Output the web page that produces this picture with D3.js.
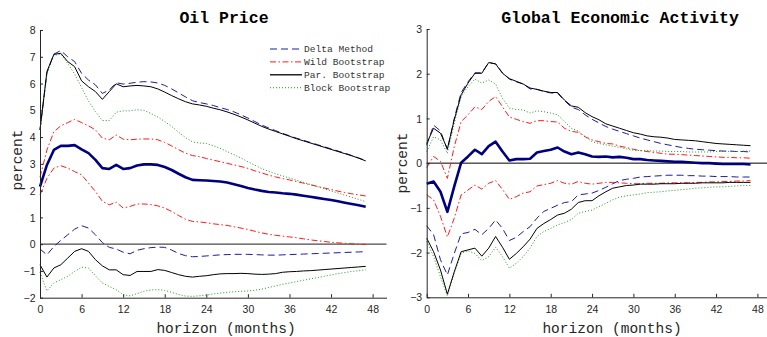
<!DOCTYPE html>
<html>
<head>
<meta charset="utf-8">
<script src="https://cdn.jsdelivr.net/npm/d3@7"></script>
<style>
  html, body { margin: 0; padding: 0; background: #fff; }
  svg { display: block; }
</style>
</head>
<body>
<svg id="chart" width="767" height="337"></svg>
<script>
// ---------- data ----------
const horizon = d3.range(48);
const xTicks = [0, 6, 12, 18, 24, 30, 36, 42, 48];
const oilYTicks = [-2, -1, 0, 1, 2, 3, 4, 5, 6, 7, 8];
const geaYTicks = [-3, -2, -1, 0, 1, 2, 3];
const legendLabels = ["Delta Method", "Wild Bootstrap", "Par. Bootstrap", "Block Bootstrap"];

const oilPoint = [2.15,2.96,3.52,3.67,3.67,3.70,3.54,3.40,3.15,2.84,2.81,2.96,2.81,2.84,2.94,2.98,2.98,2.96,2.88,2.77,2.63,2.50,2.40,2.39,2.38,2.36,2.34,2.30,2.24,2.17,2.10,2.04,1.99,1.95,1.93,1.90,1.88,1.85,1.81,1.77,1.73,1.69,1.65,1.60,1.55,1.50,1.45,1.40];
const oilDeltaUp = [4.27,6.40,7.10,7.23,7.00,6.82,6.38,6.13,5.95,5.63,5.76,6.03,5.98,6.01,6.05,6.07,6.06,6.02,5.93,5.80,5.65,5.50,5.36,5.29,5.24,5.18,5.10,5.03,4.94,4.83,4.71,4.58,4.45,4.34,4.24,4.14,4.05,3.96,3.88,3.80,3.72,3.64,3.56,3.48,3.40,3.31,3.22,3.12];
const oilDeltaLo = [-0.18,-0.40,-0.09,0.14,0.35,0.56,0.69,0.60,0.35,0.06,-0.12,-0.18,-0.30,-0.36,-0.23,-0.17,-0.13,-0.11,-0.12,-0.22,-0.35,-0.43,-0.47,-0.46,-0.44,-0.42,-0.40,-0.39,-0.38,-0.38,-0.38,-0.39,-0.40,-0.41,-0.41,-0.40,-0.39,-0.38,-0.37,-0.36,-0.35,-0.34,-0.33,-0.32,-0.31,-0.30,-0.29,-0.28];
const oilWildUp = [2.50,3.52,4.20,4.42,4.54,4.66,4.54,4.42,4.27,3.96,3.90,4.08,3.92,3.90,3.92,3.93,3.93,3.90,3.80,3.67,3.53,3.40,3.31,3.27,3.20,3.14,3.08,3.02,2.96,2.90,2.83,2.74,2.66,2.58,2.51,2.45,2.40,2.34,2.28,2.22,2.16,2.10,2.04,1.98,1.93,1.88,1.84,1.80];
const oilWildLo = [1.84,2.46,2.84,2.93,2.84,2.71,2.59,2.28,1.97,1.60,1.47,1.57,1.35,1.41,1.50,1.50,1.48,1.43,1.35,1.22,1.07,0.93,0.85,0.83,0.80,0.76,0.73,0.70,0.65,0.60,0.55,0.48,0.42,0.37,0.33,0.30,0.27,0.24,0.20,0.16,0.13,0.10,0.07,0.05,0.03,0.01,0.00,-0.01];
const oilParUp = [4.27,6.45,7.09,7.13,6.82,6.63,6.10,5.88,5.70,5.41,5.70,5.99,5.88,5.91,5.93,5.91,5.88,5.80,5.68,5.55,5.43,5.32,5.24,5.20,5.15,5.08,5.02,4.94,4.85,4.75,4.64,4.52,4.40,4.30,4.21,4.12,4.03,3.94,3.86,3.78,3.70,3.62,3.54,3.46,3.38,3.30,3.21,3.11];
const oilParLo = [-0.77,-1.23,-0.89,-0.77,-0.52,-0.27,-0.17,-0.27,-0.58,-0.81,-0.96,-0.96,-1.14,-1.17,-1.02,-1.02,-1.02,-0.95,-0.98,-1.06,-1.14,-1.20,-1.23,-1.20,-1.18,-1.14,-1.11,-1.10,-1.10,-1.09,-1.10,-1.12,-1.13,-1.12,-1.10,-1.05,-1.03,-1.02,-1.00,-0.99,-0.97,-0.95,-0.93,-0.91,-0.89,-0.87,-0.85,-0.83];
const oilBlockUp = [4.27,6.35,7.05,7.10,6.75,6.35,5.85,5.35,4.95,4.62,4.62,4.93,4.98,4.98,5.02,5.00,4.88,4.75,4.58,4.40,4.18,3.98,3.82,3.78,3.76,3.68,3.58,3.46,3.34,3.22,3.08,2.95,2.82,2.72,2.63,2.55,2.47,2.39,2.31,2.23,2.15,2.07,1.99,1.91,1.83,1.75,1.67,1.59];
const oilBlockLo = [-1.05,-1.75,-1.45,-1.33,-1.20,-1.02,-0.86,-0.89,-1.18,-1.45,-1.58,-1.70,-1.89,-1.93,-1.85,-1.76,-1.71,-1.70,-1.73,-1.80,-1.88,-1.94,-1.95,-1.93,-1.90,-1.86,-1.83,-1.80,-1.78,-1.76,-1.75,-1.72,-1.68,-1.62,-1.56,-1.50,-1.45,-1.40,-1.35,-1.30,-1.25,-1.20,-1.15,-1.10,-1.06,-1.02,-0.99,-0.96];

const geaPoint = [-0.46,-0.41,-0.64,-1.09,-0.52,0.01,0.15,0.30,0.20,0.38,0.48,0.26,0.06,0.09,0.09,0.10,0.24,0.27,0.30,0.35,0.26,0.20,0.24,0.20,0.15,0.14,0.15,0.13,0.14,0.12,0.09,0.09,0.07,0.06,0.05,0.04,0.03,0.03,0.02,0.01,0.00,0.00,-0.01,-0.02,-0.02,-0.02,-0.02,-0.03];
const geaDeltaUp = [0.40,0.85,0.72,0.30,1.00,1.58,1.82,2.02,2.02,2.25,2.22,2.02,1.88,1.82,1.77,1.66,1.65,1.60,1.57,1.56,1.40,1.25,1.20,1.08,0.98,0.90,0.82,0.76,0.71,0.66,0.61,0.56,0.52,0.48,0.44,0.41,0.38,0.35,0.33,0.31,0.30,0.29,0.28,0.27,0.27,0.26,0.26,0.25];
const geaDeltaLo = [-1.40,-1.60,-2.16,-2.50,-2.02,-1.58,-1.55,-1.48,-1.60,-1.46,-1.27,-1.46,-1.73,-1.66,-1.53,-1.42,-1.23,-1.08,-1.01,-0.94,-0.88,-0.86,-0.71,-0.69,-0.67,-0.61,-0.54,-0.46,-0.39,-0.36,-0.34,-0.31,-0.30,-0.29,-0.28,-0.27,-0.27,-0.27,-0.28,-0.28,-0.29,-0.29,-0.30,-0.30,-0.30,-0.31,-0.31,-0.31];
const geaWildUp = [-0.10,0.15,0.04,-0.34,0.37,0.93,1.08,1.26,1.20,1.38,1.49,1.26,1.03,0.98,0.93,0.89,0.95,0.95,0.93,0.92,0.78,0.71,0.69,0.59,0.52,0.48,0.44,0.43,0.38,0.35,0.31,0.28,0.26,0.24,0.22,0.20,0.20,0.19,0.18,0.17,0.16,0.15,0.14,0.13,0.13,0.12,0.12,0.11];
const geaWildLo = [-0.71,-0.82,-1.19,-1.65,-1.23,-0.71,-0.60,-0.49,-0.58,-0.45,-0.39,-0.59,-0.81,-0.75,-0.67,-0.64,-0.51,-0.48,-0.45,-0.39,-0.45,-0.47,-0.41,-0.45,-0.47,-0.45,-0.43,-0.43,-0.44,-0.45,-0.46,-0.46,-0.45,-0.45,-0.45,-0.44,-0.44,-0.44,-0.44,-0.43,-0.43,-0.42,-0.42,-0.41,-0.41,-0.40,-0.40,-0.39];
const geaParUp = [0.44,0.78,0.67,0.32,0.97,1.53,1.79,2.01,2.01,2.25,2.22,2.01,1.89,1.83,1.77,1.68,1.65,1.61,1.58,1.58,1.41,1.28,1.25,1.13,1.04,0.97,0.88,0.83,0.78,0.73,0.68,0.65,0.61,0.59,0.58,0.56,0.53,0.52,0.51,0.50,0.48,0.46,0.44,0.43,0.42,0.41,0.40,0.39];
const geaParLo = [-1.68,-1.98,-2.39,-2.93,-2.43,-1.98,-1.94,-1.90,-2.08,-1.90,-1.64,-1.88,-2.15,-2.02,-1.87,-1.70,-1.46,-1.35,-1.26,-1.16,-1.12,-1.03,-0.88,-0.84,-0.84,-0.73,-0.64,-0.56,-0.53,-0.50,-0.49,-0.47,-0.47,-0.47,-0.46,-0.46,-0.46,-0.45,-0.45,-0.45,-0.44,-0.44,-0.44,-0.44,-0.43,-0.43,-0.43,-0.43];
const geaBlockUp = [0.26,0.59,0.52,0.22,0.89,1.49,1.71,1.88,1.79,1.86,1.77,1.45,1.23,1.20,1.19,1.12,1.17,1.15,1.12,1.08,0.93,0.78,0.72,0.59,0.48,0.44,0.41,0.38,0.35,0.32,0.29,0.28,0.28,0.27,0.27,0.26,0.26,0.26,0.25,0.25,0.25,0.25,0.26,0.26,0.26,0.26,0.27,0.27];
const geaBlockLo = [-1.75,-2.09,-2.54,-2.97,-2.46,-2.02,-1.96,-2.02,-2.18,-2.09,-1.88,-2.09,-2.35,-2.24,-2.09,-1.90,-1.64,-1.53,-1.46,-1.38,-1.33,-1.26,-1.12,-1.08,-1.05,-0.97,-0.90,-0.82,-0.76,-0.73,-0.71,-0.69,-0.66,-0.65,-0.64,-0.62,-0.61,-0.59,-0.58,-0.56,-0.55,-0.54,-0.53,-0.53,-0.52,-0.51,-0.50,-0.50];

// ---------- styles ----------
const styles = {
  delta: { color: "#1c1ca6", width: 1, dash: "7,4" },
  wild:  { color: "#ff1a1a", width: 1, dash: "6,2.5,1.5,2.5" },
  par:   { color: "#000000", width: 1, dash: null },
  block: { color: "#1f9a1f", width: 1, dash: "1,2" },
  point: { color: "#00007f", width: 2.6, dash: null }
};
const MONO = "'Liberation Mono', 'DejaVu Sans Mono', monospace";
const SANS = "'Liberation Sans', Arial, sans-serif";
const AXIS_COLOR = "#262626";

const svg = d3.select("#chart");

function drawPanel(cfg) {
  const x = d3.scaleLinear().domain([0, 50]).range([cfg.x0, cfg.x0 + cfg.pxPerMonth * 50]);
  const y = d3.scaleLinear().domain(cfg.yDomain).range([cfg.yBottom, cfg.yTop]);
  const g = svg.append("g");

  // zero line
  g.append("line")
    .attr("x1", x(0)).attr("x2", x(50))
    .attr("y1", y(0)).attr("y2", y(0))
    .attr("stroke", cfg.zeroColor).attr("stroke-width", cfg.zeroWidth);

  const line = d3.line().x((d, i) => x(horizon[i])).y(d => y(d));
  const series = [
    ["delta", cfg.deltaUp], ["delta", cfg.deltaLo],
    ["wild", cfg.wildUp], ["wild", cfg.wildLo],
    ["block", cfg.blockUp], ["block", cfg.blockLo],
    ["par", cfg.parUp], ["par", cfg.parLo],
    ["point", cfg.point]
  ];
  series.forEach(([k, data]) => {
    const s = styles[k];
    g.append("path").datum(data)
      .attr("d", line)
      .attr("fill", "none")
      .attr("stroke", s.color)
      .attr("stroke-width", s.width)
      .attr("stroke-dasharray", s.dash)
      .attr("stroke-linejoin", "round");
  });

  // axes (ticks inward)
  const fmt = d3.format("d");
  const xAxis = d3.axisBottom(x).tickValues(xTicks).tickFormat(fmt).tickSize(-3.5).tickPadding(8).tickSizeOuter(0);
  const gx = g.append("g").attr("transform", `translate(0,${cfg.yBottom})`).call(xAxis);
  const yAxis = d3.axisLeft(y).tickValues(cfg.yTicks).tickFormat(fmt).tickSize(-3).tickPadding(4.5).tickSizeOuter(0);
  const gy = g.append("g").attr("transform", `translate(${cfg.x0},0)`).call(yAxis);
  [gx, gy].forEach(a => {
    a.select(".domain").attr("stroke", AXIS_COLOR).attr("stroke-width", 1);
    a.selectAll(".tick line").attr("stroke", AXIS_COLOR);
    a.selectAll(".tick text").attr("fill", AXIS_COLOR)
      .style("font-family", SANS).style("font-size", "10.5px");
  });
  gy.selectAll(".tick text").attr("dy", "0.35em");
  gx.selectAll(".tick text").attr("dy", "0.71em");

  // title
  g.append("text").attr("x", cfg.titleX).attr("y", 22.5)
    .attr("text-anchor", "middle")
    .style("font-family", MONO).style("font-size", "16.5px").style("font-weight", "bold")
    .attr("fill", "#000").text(cfg.title);

  // x label
  g.append("text").attr("x", cfg.xLabelX).attr("y", 332.5)
    .attr("text-anchor", "middle")
    .style("font-family", MONO).style("font-size", "14.5px")
    .attr("fill", AXIS_COLOR).text("horizon (months)");

  // y label
  g.append("text")
    .attr("transform", `translate(${cfg.yLabelX},${cfg.yLabelY}) rotate(-90)`)
    .attr("text-anchor", "middle")
    .style("font-family", MONO).style("font-size", "14.5px")
    .attr("fill", AXIS_COLOR).text("percent");

  return { x, y, g };
}

drawPanel({
  x0: 40, pxPerMonth: 6.93, yDomain: [-2, 8], yTop: 30, yBottom: 297.7, yTicks: oilYTicks,
  point: oilPoint, deltaUp: oilDeltaUp, deltaLo: oilDeltaLo, wildUp: oilWildUp, wildLo: oilWildLo,
  parUp: oilParUp, parLo: oilParLo, blockUp: oilBlockUp, blockLo: oilBlockLo,
  title: "Oil Price", titleX: 224, xLabelX: 226, yLabelX: 22, yLabelY: 160,
  zeroColor: "#4a4a4a", zeroWidth: 1.4
});

drawPanel({
  x0: 426.7, pxPerMonth: 6.89, yDomain: [-3, 3], yTop: 29, yBottom: 297.3, yTicks: geaYTicks,
  point: geaPoint, deltaUp: geaDeltaUp, deltaLo: geaDeltaLo, wildUp: geaWildUp, wildLo: geaWildLo,
  parUp: geaParUp, parLo: geaParLo, blockUp: geaBlockUp, blockLo: geaBlockLo,
  title: "Global Economic Activity", titleX: 620, xLabelX: 612, yLabelX: 407, yLabelY: 163,
  zeroColor: "#000", zeroWidth: 1
});

// legend (left panel)
const legendKeys = ["delta", "wild", "par", "block"];
const leg = svg.append("g");
legendKeys.forEach((k, i) => {
  const s = styles[k];
  const yy = 49 + i * 12.9;
  leg.append("line").attr("x1", 270).attr("x2", 302).attr("y1", yy).attr("y2", yy)
    .attr("stroke", s.color).attr("stroke-width", k === "par" ? 1.3 : 1)
    .attr("stroke-dasharray", s.dash);
  leg.append("text").attr("x", 304).attr("y", yy).attr("dy", "0.35em")
    .style("font-family", MONO).style("font-size", "9.6px")
    .attr("fill", "#333").text(legendLabels[i]);
});
</script>
</body>
</html>
